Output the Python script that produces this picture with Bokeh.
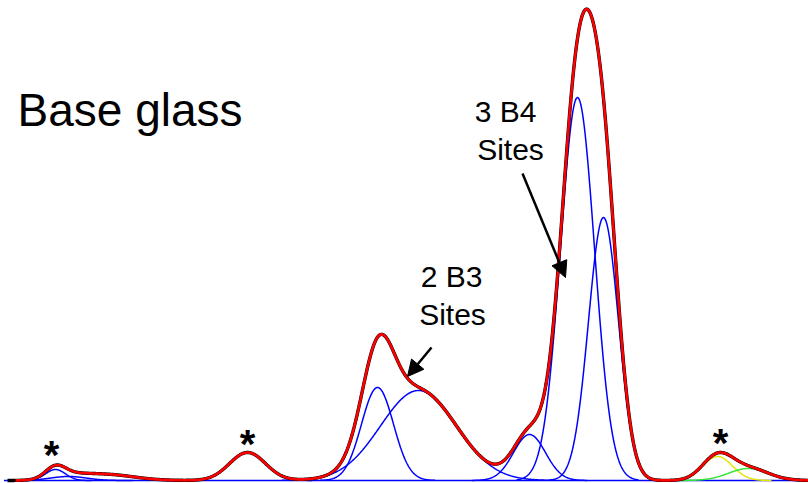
import numpy as np
from bokeh.plotting import figure
from bokeh.models import Arrow, NormalHead, Range1d
from bokeh.core.properties import value
from bokeh.embed import file_html
from bokeh.resources import INLINE

# Fitted line-shape components (position, peak height, gaussian width)
centers = [55, 68, 247, 377, 418, 529, 577, 603, 717, 748]
heights = [11, 4, 28, 93, 90, 46, 383, 263, 24, 12]
widths = [10, 18, 18, 16, 38, 16, 17, 15, 15, 20]
comp_colors = ["#0000FF"] * 8 + ["#E6E600", "#33E633"]

# Broad unassigned intensity under the first spinning sideband
bg_center, bg_height, bg_width = 105, 6, 28

# Annotations
title_text = "Base glass"
b4_label = ["3 B4", "Sites"]
b3_label = ["2 B3", "Sites"]
sideband_x = [51, 247, 720]
sideband_y = [26, 37, 38]

x = np.arange(0, 808.5, 0.5)


def gauss(c, h, w):
    return h * np.exp(-((x - c) ** 2) / (2 * w * w))


p = figure(width=808, height=483, output_backend="svg", toolbar_location=None,
           x_range=Range1d(0, 808), y_range=Range1d(-3, 480),
           min_border=0, outline_line_color=None)
p.axis.visible = False
p.grid.visible = False
p.background_fill_color = "white"
p.border_fill_color = "white"

# baseline
p.line([25, 808], [0, 0], line_color="#0000FF", line_width=1.6)

# individual components
total = gauss(bg_center, bg_height, bg_width)
for c, h, w, col in zip(centers, heights, widths, comp_colors):
    g = gauss(c, h, w)
    total = total + g
    m = np.abs(x - c) <= 3.6 * w
    p.line(x[m], g[m], line_color=col, line_width=1.5)

# fitted envelope and measured spectrum
m_fit = x >= 7
p.line(x[m_fit], total[m_fit], line_color="black", line_width=3.4)
m_exp = x >= 15
p.line(x[m_exp], total[m_exp], line_color="#FF0000", line_width=2.6)

# labels
font = value("Liberation Sans")
p.text([17], [371], text=[title_text], text_font=font, text_font_size="46px",
       text_color="black", text_baseline="alphabetic", text_align="left")
p.text([505, 510], [369, 331], text=b4_label, text_font=font, text_font_size="30px",
       text_color="black", text_baseline="alphabetic", text_align="center")
p.text([451, 452], [204, 166], text=b3_label, text_font=font, text_font_size="30px",
       text_color="black", text_baseline="alphabetic", text_align="center")
p.text(sideband_x, sideband_y, text=["*"] * 3, text_font=font, text_font_size="40px",
       text_font_style="bold", text_color="black", text_baseline="alphabetic",
       text_align="center")

# arrows pointing at the site groups
for (x0, y0, x1, y1) in [(522, 307, 565, 203), (431, 133, 407, 104)]:
    p.add_layout(Arrow(end=NormalHead(size=16, fill_color="black", line_color="black"),
                       x_start=x0, y_start=y0, x_end=x1, y_end=y1,
                       line_color="black", line_width=2.5))

open("out.html", "w").write(file_html(p, INLINE))
